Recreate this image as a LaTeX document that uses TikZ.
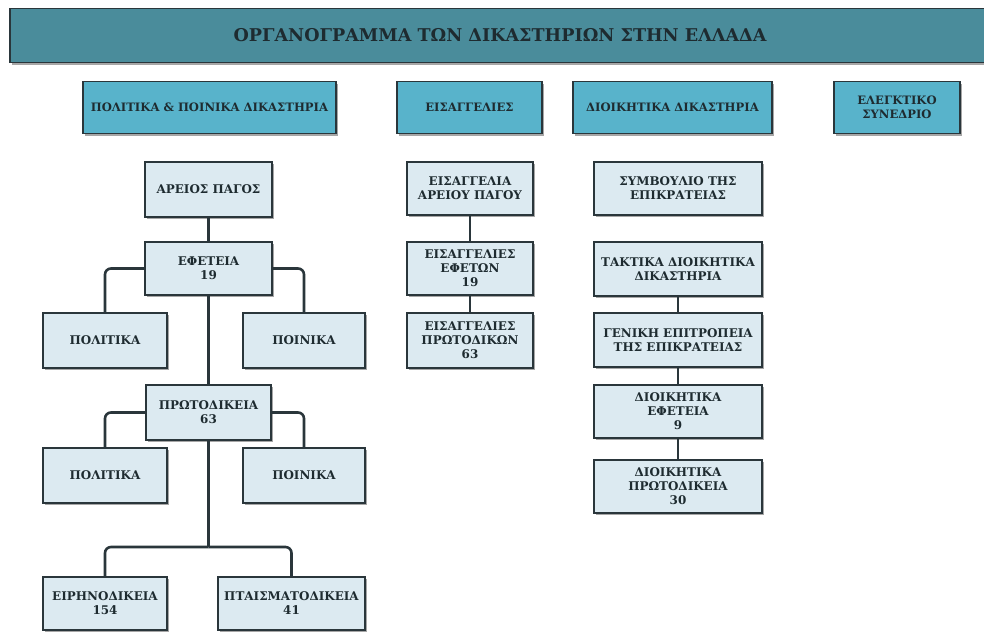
\documentclass[tikz,border=0pt]{standalone}
\usepackage{fontspec}
\setmainfont{DejaVu Serif}[BoldFont={DejaVu Serif Bold}]
\usetikzlibrary{shadows}
\definecolor{banner}{HTML}{4A8C9B}
\definecolor{headfill}{HTML}{58B3CB}
\definecolor{boxfill}{HTML}{DCEAF1}
\definecolor{edge}{HTML}{2A363B}
\definecolor{ink}{HTML}{1E2B30}
\begin{document}
\begin{tikzpicture}[x=0.03cm,y=-0.03cm,
  size/.style 2 args={minimum width=#1*0.03cm,minimum height=#2*0.03cm},
  base/.style={draw=edge,line width=1.6pt,text=ink,align=center,inner sep=1pt,
    drop shadow={shadow xshift=0.05cm,shadow yshift=-0.06cm,fill=black,opacity=0.35}},
  titlebox/.style={base,fill=banner,font=\bfseries\fontsize{15}{17}\selectfont},
  headbox/.style={base,fill=headfill,font=\bfseries\fontsize{9.9}{12}\selectfont},
  courtbox/.style={base,fill=boxfill,font=\bfseries\fontsize{10.2}{12}\selectfont},
  link/.style={draw=edge,line width=2.2pt,rounded corners=0.18cm}]
\useasboundingbox (0,0) rectangle (984,639);
\fill[white] (0,0) rectangle (984,639);

\node[titlebox,size={980}{54}] (title) at (500,35.5) {ΟΡΓΑΝΟΓΡΑΜΜΑ ΤΩΝ ΔΙΚΑΣΤΗΡΙΩΝ ΣΤΗΝ ΕΛΛΑΔΑ};

\node[headbox,size={253}{52}] (civcrim) at (209.5,107.5) {ΠΟΛΙΤΙΚΑ \& ΠΟΙΝΙΚΑ ΔΙΚΑΣΤΗΡΙΑ};
\node[headbox,size={145}{52}] (prosec) at (469.5,107.5) {ΕΙΣΑΓΓΕΛΙΕΣ};
\node[headbox,size={199}{52}] (admin) at (672.5,107.5) {ΔΙΟΙΚΗΤΙΚΑ ΔΙΚΑΣΤΗΡΙΑ};
\node[headbox,size={126}{52}] (audit) at (897,107.5) {ΕΛΕΓΚΤΙΚΟ\\ΣΥΝΕΔΡΙΟ};

\node[courtbox,size={127}{55}] (areios) at (208.5,189.5) {ΑΡΕΙΟΣ ΠΑΓΟΣ};
\node[courtbox,size={127}{53}] (efet) at (208.5,268.5) {ΕΦΕΤΕΙΑ\\19};
\node[courtbox,size={124}{55}] (polA) at (105,340.5) {ΠΟΛΙΤΙΚΑ};
\node[courtbox,size={122}{55}] (poinA) at (304,340.5) {ΠΟΙΝΙΚΑ};
\node[courtbox,size={125}{55}] (prot) at (208.5,412.5) {ΠΡΩΤΟΔΙΚΕΙΑ\\63};
\node[courtbox,size={124}{55}] (polB) at (105,475.5) {ΠΟΛΙΤΙΚΑ};
\node[courtbox,size={122}{55}] (poinB) at (304,475.5) {ΠΟΙΝΙΚΑ};
\node[courtbox,size={124}{53}] (eirin) at (105,603.5) {ΕΙΡΗΝΟΔΙΚΕΙΑ\\154};
\node[courtbox,size={147}{53}] (ptais) at (291.5,603.5) {ΠΤΑΙΣΜΑΤΟΔΙΚΕΙΑ\\41};
\coordinate (split) at (208.5,547);

\node[courtbox,size={126}{53}] (eisAP) at (470,188.5) {ΕΙΣΑΓΓΕΛΙΑ\\ΑΡΕΙΟΥ ΠΑΓΟΥ};
\node[courtbox,size={126}{53}] (eisEf) at (470,268.5) {ΕΙΣΑΓΓΕΛΙΕΣ\\ΕΦΕΤΩΝ\\19};
\node[courtbox,size={126}{55}] (eisPr) at (470,340.5) {ΕΙΣΑΓΓΕΛΙΕΣ\\ΠΡΩΤΟΔΙΚΩΝ\\63};

\node[courtbox,size={168}{53}] (symv) at (678,188.5) {ΣΥΜΒΟΥΛΙΟ ΤΗΣ\\ΕΠΙΚΡΑΤΕΙΑΣ};
\node[courtbox,size={168}{54}] (takt) at (678,269) {ΤΑΚΤΙΚΑ ΔΙΟΙΚΗΤΙΚΑ\\ΔΙΚΑΣΤΗΡΙΑ};
\node[courtbox,size={168}{54}] (genEp) at (678,340) {ΓΕΝΙΚΗ ΕΠΙΤΡΟΠΕΙΑ\\ΤΗΣ ΕΠΙΚΡΑΤΕΙΑΣ};
\node[courtbox,size={168}{53}] (dioEf) at (678,411.5) {ΔΙΟΙΚΗΤΙΚΑ\\ΕΦΕΤΕΙΑ\\9};
\node[courtbox,size={168}{53}] (dioPr) at (678,486.5) {ΔΙΟΙΚΗΤΙΚΑ\\ΠΡΩΤΟΔΙΚΕΙΑ\\30};

\draw[link] (areios) -- (efet);
\draw[link] (efet.west) -| (polA.north);
\draw[link] (efet.east) -| (poinA.north);
\draw[link] (efet) -- (prot);
\draw[link] (prot.west) -| (polB.north);
\draw[link] (prot.east) -| (poinB.north);
\draw[link] (prot) -- (split);
\draw[link] (split) -| (eirin.north);
\draw[link] (split) -| (ptais.north);
\draw[link] (eisAP) -- (eisEf);
\draw[link] (eisEf) -- (eisPr);
\draw[link] (takt) -- (genEp);
\draw[link] (genEp) -- (dioEf);
\draw[link] (dioEf) -- (dioPr);
\end{tikzpicture}
\end{document}
